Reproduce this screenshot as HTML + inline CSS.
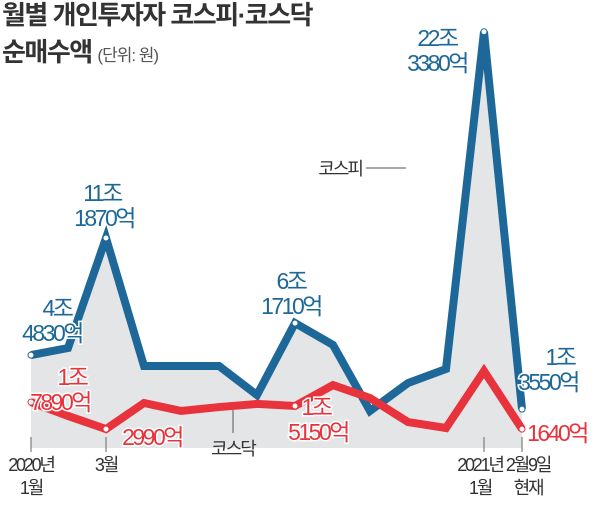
<!DOCTYPE html>
<html><head><meta charset="utf-8"><style>
body{margin:0;background:#fff;}
svg text{font-family:"Liberation Sans","Noto Sans CJK KR",sans-serif;}
</style></head><body>
<svg width="600" height="522" viewBox="0 0 600 522">
<text x="2" y="24" font-size="26" font-weight="bold" fill="#333" letter-spacing="-1.5">월별 개인투자자 코스피·코스닥</text>
<text x="2" y="61" font-size="26" font-weight="bold" fill="#333" letter-spacing="-1.5">순매수액 <tspan font-size="17" font-weight="normal" fill="#555" letter-spacing="-1">(단위: 원)</tspan></text>
<g id="plot"></g>
</svg>
<script>
const months=["2020-01","2020-02","2020-03","2020-04","2020-05","2020-06","2020-07","2020-08","2020-09","2020-10","2020-11","2020-12","2021-01","2021-02"];
const kospi=[4.86,5.24,11.19,4.27,4.27,4.27,2.70,6.59,5.41,1.84,3.35,4.11,22.34,1.94];
const kosdaq=[2.32,1.57,0.86,2.27,1.84,2.05,2.22,2.11,3.24,2.54,1.24,0.92,4.0,0.86];
const kospiLabels=[[0,"4조","4830억"],[2,"11조","1870억"],[7,"6조","1710억"],[12,"22조","3380억"],[13,"1조","3550억"]];
const kosdaqLabels=[[0,"1조","7890억"],[2,"","2990억"],[7,"1조","5150억"],[13,"","1640억"]];
const xTicks=[[0,"2020년","1월"],[2,"3월",""],[12,"2021년","1월"],[13,"2월9일","현재"]];
const NS="http://www.w3.org/2000/svg";
const g=document.getElementById('plot');
const xs=[31,68,106,144,181,219,257,295,333,370,408,446,484,522];
function x(i){return xs[i];}
function y(v){return 445-v*18.5;}
function mk(t,a){const e=document.createElementNS(NS,t);for(const k in a)e.setAttribute(k,a[k]);g.appendChild(e);return e;}
let area="M"+x(0)+",448 "+kospi.map((v,i)=>"L"+x(i)+","+y(v)).join(" ")+" L"+x(13)+",448 Z";
const ar=mk('path',{d:area,fill:"#e4e5e7"});


const tickDx={0:0,2:0,12:-4,13:6};
xTicks.forEach(t=>{const l=mk('line',{x1:x(t[0]),x2:x(t[0]),y1:437,y2:452,stroke:"#666","stroke-width":1});


const cx=x(t[0])+tickDx[t[0]];
const a=mk('text',{x:cx,y:471,"font-size":18,"text-anchor":"middle",fill:"#333","letter-spacing":"-2.2"});a.textContent=t[1];


if(t[2]){const b=mk('text',{x:cx,y:494,"font-size":18,"text-anchor":"middle",fill:"#333","letter-spacing":"-2.2"});b.textContent=t[2];

}});
const lk=mk('line',{x1:366,x2:406,y1:168,y2:168,stroke:"#555"});


const tk=mk('text',{x:362,y:175,"font-size":18,fill:"#333","text-anchor":"end","letter-spacing":"-2"});tk.textContent="코스피";


const lq=mk('line',{x1:233,x2:233,y1:410,y2:433,stroke:"#555"});


const tq=mk('text',{x:233,y:455,"font-size":18,fill:"#333","text-anchor":"middle","letter-spacing":"-2"});tq.textContent="코스닥";


const pk=mk('polyline',{points:kospi.map((v,i)=>x(i)+","+y(v)).join(" "),fill:"none",stroke:"#1d6899","stroke-width":8,"stroke-linejoin":"miter"});


const pq=mk('polyline',{points:kosdaq.map((v,i)=>x(i)+","+y(v)).join(" "),fill:"none",stroke:"#e8323c","stroke-width":8});


function labels(arr,data,color,off){arr.forEach(l=>{const cx=x(l[0]),cy=y(data[l[0]]);
const d=mk('circle',{cx:cx,cy:cy,r:3,fill:"#fff",stroke:color,"stroke-width":1});


const o=off(l[0]);
if(l[1]){const t=mk('text',{x:o[2],y:o[1]-25,"font-size":23,fill:color,"text-anchor":"middle","letter-spacing":"-2.5",stroke:"#fff","stroke-width":3,"paint-order":"stroke"});t.textContent=l[1];

}
const t2=mk('text',{x:o[0],y:o[1],"font-size":23,fill:color,"text-anchor":"middle","letter-spacing":"-2.5",stroke:"#fff","stroke-width":3,"paint-order":"stroke"});t2.textContent=l[2];

});}
const ko={0:[52,341,57],2:[104,226,102],7:[291,314,291],12:[437,71,437],13:[548,390,560]};
const qo={0:[60,410,72],2:[152,445,0],7:[318,440,316],13:[557,441,0]};
labels(kospiLabels,kospi,"#1d6899",i=>ko[i]);
labels(kosdaqLabels,kosdaq,"#e8323c",i=>qo[i]);
</script>
</body></html>
